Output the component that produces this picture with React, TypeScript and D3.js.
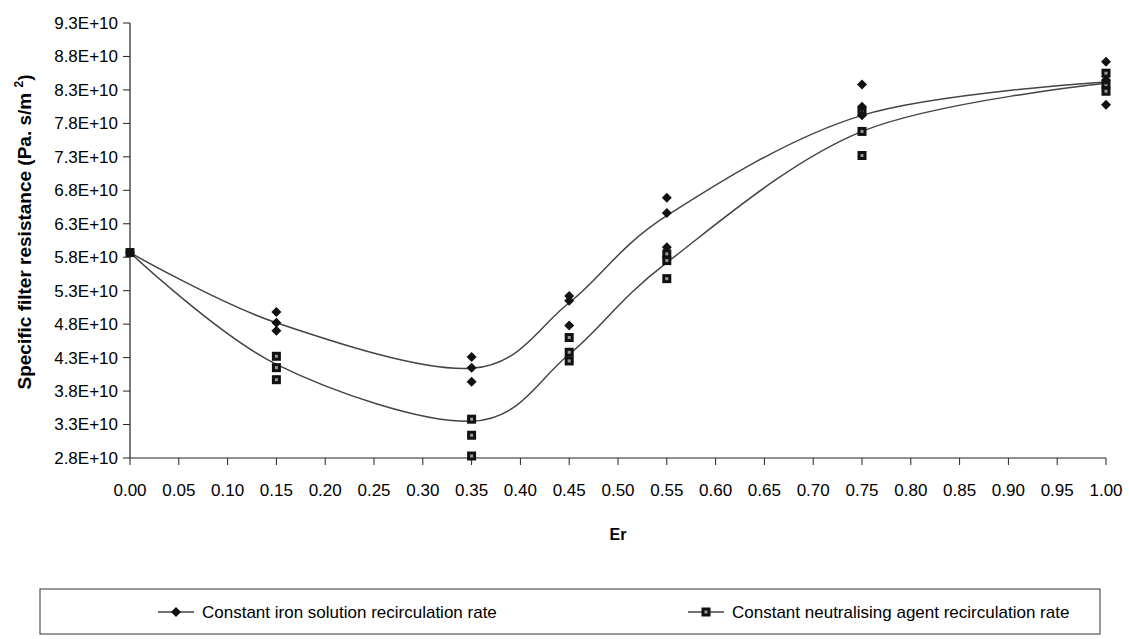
import React from "react";
import * as d3 from "d3";

const erValues = [0, 0.15, 0.35, 0.45, 0.55, 0.75, 1.0];
// smoothed line values (x 1E+10)
const ironLine = [5.87, 4.82, 4.14, 5.12, 6.42, 7.92, 8.42];
const neutLine = [5.87, 4.2, 3.35, 4.35, 5.72, 7.68, 8.4];
// replicate measurements (x 1E+10)
const ironReplicates = [[5.87], [4.98, 4.82, 4.7], [4.31, 4.15, 3.94], [5.22, 5.15, 4.78], [6.69, 6.46, 5.95], [8.38, 8.05, 7.92], [8.72, 8.45, 8.08]];
const neutReplicates = [[5.87], [4.32, 4.15, 3.97], [3.38, 3.14, 2.83], [4.6, 4.38, 4.25], [5.85, 5.75, 5.48], [7.98, 7.68, 7.32], [8.55, 8.38, 8.28]];
const xTickValues = [0, 0.05, 0.1, 0.15, 0.2, 0.25, 0.3, 0.35, 0.4, 0.45, 0.5, 0.55, 0.6, 0.65, 0.7, 0.75, 0.8, 0.85, 0.9, 0.95, 1.0];
const yTickValues = [2.8, 3.3, 3.8, 4.3, 4.8, 5.3, 5.8, 6.3, 6.8, 7.3, 7.8, 8.3, 8.8, 9.3];
const seriesNames = ["Constant iron solution recirculation rate", "Constant neutralising agent recirculation rate"];

const E = 1e10;
const W = 1129, H = 639;
const x = d3.scaleLinear().domain([0, 1]).range([130, 1106]);
const y = d3.scaleLinear().domain([2.8 * E, 9.3 * E]).range([458, 23]);
const font = "'Liberation Sans', Arial, sans-serif";

const lineGen = d3
  .line<[number, number]>()
  .x((d) => x(d[0]))
  .y((d) => y(d[1] * E))
  .curve(d3.curveCardinal.tension(0));

function Diamond({ cx, cy }: { cx: number; cy: number }) {
  const r = 5;
  return <path d={`M${cx},${cy - r}L${cx + r},${cy}L${cx},${cy + r}L${cx - r},${cy}Z`} fill="#111" />;
}
function Square({ cx, cy }: { cx: number; cy: number }) {
  const r = 4.5;
  return (
    <g>
      <rect x={cx - r} y={cy - r} width={2 * r} height={2 * r} fill="#111" />
      <rect x={cx - 1.5} y={cy - 1.5} width={3} height={3} fill="#999" />
    </g>
  );
}
const fmt = (v: number) => `${v.toFixed(1)}E+10`;

export default function App() {
  const ironPts = erValues.map((e, i) => [e, ironLine[i]] as [number, number]);
  const neutPts = erValues.map((e, i) => [e, neutLine[i]] as [number, number]);
  const x0 = x.range()[0], x1 = x.range()[1];
  const yb = y.range()[0], yt = y.range()[1];
  return (
    <svg width={W} height={H} style={{ position: "absolute", left: 0, top: 0, background: "#fff" }} fontFamily={font}>
      <rect width={W} height={H} fill="#fff" />
      {/* axes */}
      <line x1={x0} x2={x0} y1={yt} y2={yb} stroke="#222" strokeWidth={1.2} />
      <line x1={x0} x2={x1} y1={yb} y2={yb} stroke="#222" strokeWidth={1.2} />
      {yTickValues.map((v) => (
        <g key={v}>
          <line x1={x0 - 7} x2={x0} y1={y(v * E)} y2={y(v * E)} stroke="#222" />
          <text x={x0 - 12} y={y(v * E)} dy="0.35em" textAnchor="end" fontSize={17}>
            {fmt(v)}
          </text>
        </g>
      ))}
      {xTickValues.map((v) => (
        <g key={v}>
          <line x1={x(v)} x2={x(v)} y1={yb} y2={yb + 7} stroke="#222" />
          <text x={x(v)} y={yb + 38} textAnchor="middle" fontSize={17}>
            {v.toFixed(2)}
          </text>
        </g>
      ))}
      <text x={(x0 + x1) / 2} y={yb + 82} textAnchor="middle" fontSize={16} fontWeight="bold">
        Er
      </text>
      <text transform={`translate(31,232) rotate(-90)`} textAnchor="middle" fontSize={19} fontWeight="bold">
        Specific filter resistance (Pa. s/m <tspan dy="-8" fontSize={12}>2</tspan><tspan dy="8">)</tspan>
      </text>
      {/* lines */}
      <path d={lineGen(ironPts) || ""} fill="none" stroke="#444" strokeWidth={1.5} />
      <path d={lineGen(neutPts) || ""} fill="none" stroke="#444" strokeWidth={1.5} />
      {/* points */}
      {neutReplicates.map((arr, i) =>
        arr.map((v, j) => <Square key={`n${i}-${j}`} cx={x(erValues[i])} cy={y(v * E)} />)
      )}
      {ironReplicates.map((arr, i) =>
        arr.map((v, j) => <Diamond key={`i${i}-${j}`} cx={x(erValues[i])} cy={y(v * E)} />)
      )}
      {/* legend */}
      <rect x={40} y={589} width={1060} height={45} fill="none" stroke="#333" strokeWidth={1} />
      <g transform="translate(158,612)">
        <line x1={0} x2={36} y1={0} y2={0} stroke="#444" strokeWidth={1.5} />
        <Diamond cx={18} cy={0} />
        <text x={44} y={0} dy="0.35em" fontSize={17}>
          {seriesNames[0]}
        </text>
      </g>
      <g transform="translate(688,612)">
        <line x1={0} x2={36} y1={0} y2={0} stroke="#444" strokeWidth={1.5} />
        <Square cx={18} cy={0} />
        <text x={44} y={0} dy="0.35em" fontSize={17}>
          {seriesNames[1]}
        </text>
      </g>
    </svg>
  );
}
